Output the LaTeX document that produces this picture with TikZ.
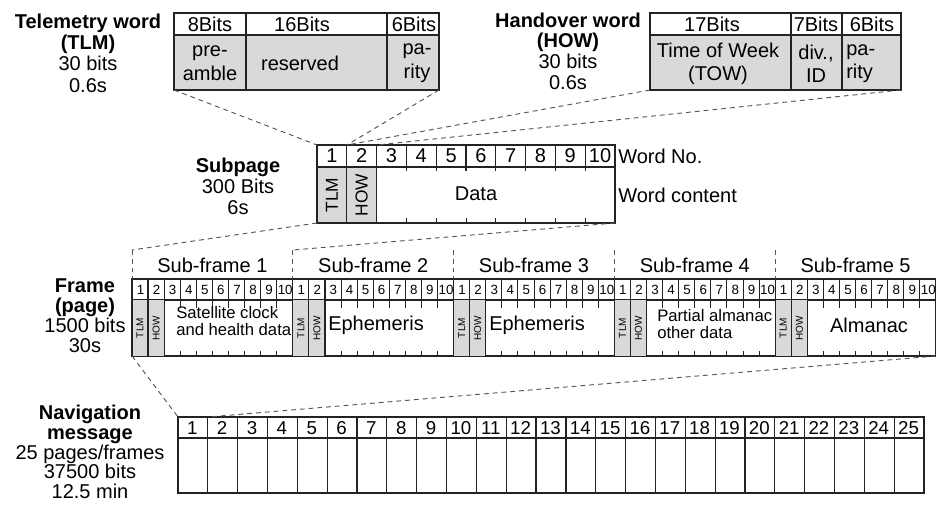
\documentclass[tikz,border=0pt]{standalone}
\usepackage{fontspec}
\setmainfont{Liberation Sans}
\usetikzlibrary{fit}
\definecolor{cellgray}{RGB}{217,217,217}
\definecolor{linec}{RGB}{35,35,35}
\definecolor{dashc}{RGB}{85,85,85}
\newcommand\myfs[2]{\fontsize{#1}{#2}\selectfont}
\tikzset{
  box/.style={draw=linec, line width=0.9pt, inner sep=0pt, outer sep=0pt, rectangle},
  gridl/.style={draw=linec, line width=0.9pt},
  thinl/.style={draw=linec, line width=0.7pt},
  conn/.style={draw=dashc, line width=0.7pt, dash pattern=on 3.6pt off 3pt},
  lbl/.style={font=\myfs{15}{16}, align=center, inner sep=0pt},
  small/.style={font=\myfs{10}{11}, inner sep=0pt},
  mid/.style={font=\myfs{12.5}{13}, align=left, inner sep=0pt},
  vtiny/.style={font=\myfs{7.5}{8}, inner sep=0pt, rotate=90},
  vmid/.style={font=\myfs{13}{14}, inner sep=0pt, rotate=90},
  navnum/.style={font=\myfs{14}{15}, inner sep=0pt}
}
\begin{document}
\begin{tikzpicture}[x=0.75pt,y=-0.75pt]
\useasboundingbox (0,0) rectangle (936,508);

% ---------------- Telemetry word box
\fill[cellgray] (174,35) rectangle (439,90);
\node[box, fit={(174,13) (439,90)}] (tlm) {};
\draw[gridl] (174,35) -- (439,35);
\draw[gridl] (246,13) -- (246,90);
\draw[gridl] (387,13) -- (387,90);
\node[lbl] (t8) at (210,24) {8Bits};
\node[lbl] (t16) at (302,24) {16Bits};
\node[lbl] (t6) at (414,24) {6Bits};
\node[lbl, font=\myfs{15}{18}] (tpre) at (210,63) {pre-\\amble};
\node[lbl] (tres) at (300,63) {reserved};
\node[lbl, font=\myfs{15}{18}] (tpar) at (417,63) {pa-\\rity};
\node[lbl, font=\myfs{15}{16}] (tlmlbl) at (88,53) {\textbf{Telemetry word}\\\textbf{(TLM)}\\30 bits\\0.6s};

% ---------------- Handover word box
\fill[cellgray] (650,35) rectangle (901,90);
\node[box, fit={(650,13) (901,90)}] (how) {};
\draw[gridl] (650,35) -- (901,35);
\draw[gridl] (791,13) -- (791,90);
\draw[gridl] (842,13) -- (842,90);
\node[lbl] (h17) at (712,24) {17Bits};
\node[lbl] (h7) at (816,24) {7Bits};
\node[lbl] (h6) at (872,24) {6Bits};
\node[lbl, font=\myfs{15}{17.5}] (htow) at (718,64) {Time of Week\\(TOW)};
\node[lbl, font=\myfs{15}{17.5}] (hdiv) at (816,64) {div.,\\ID};
\node[lbl, font=\myfs{15}{17.5}, align=left, anchor=west] (hpar) at (846,64) {pa-\\rity};
\node[lbl, font=\myfs{15}{15.5}] (howlbl) at (568,51) {\textbf{Handover word}\\\textbf{(HOW)}\\30 bits\\0.6s};

% ---------------- Subpage
\fill[cellgray] (317,167) rectangle (376.6,223);
\node[box, fit={(317,145) (615,223)}] (sp) {};
\draw[gridl] (317,167) -- (615,167);
\draw[gridl] (346.8,145) -- (346.8,223);
\draw[gridl] (376.6,145) -- (376.6,223);
\foreach \j in {3,...,9} {
  \draw[gridl] (317+29.8*\j,145) -- (317+29.8*\j,171);
  \draw[thinl] (317+29.8*\j,218) -- (317+29.8*\j,223);
}
\foreach \j in {1,...,10} {
  \node[lbl] (spn\j) at (317+29.8*\j-14.9,156) {\j};
}
\node[vmid] (sptlm) at (331.9,195) {TLM};
\node[vmid] (sphow) at (361.7,195) {HOW};
\node[lbl] (spdata) at (476,194) {Data};
\node[lbl, anchor=west] (spwn) at (618,156) {Word No.};
\node[lbl, anchor=west] (spwc) at (618,195) {Word content};
\node[lbl, font=\myfs{15}{15.8}] (splbl) at (238,186) {\textbf{Subpage}\\300 Bits\\6s};
\coordinate (spc1) at (346.8,145);
\coordinate (spc2) at (376.6,145);

% ---------------- Frame
\node[box, fit={(132,279) (936,356)}] (fr) {};
\draw[gridl] (132,300) -- (936,300);
\foreach \k in {0,...,4} {
  \pgfmathsetmacro\s{132+160.8*\k}
  \pgfmathtruncatemacro\kk{\k+1}
  \fill[cellgray] (\s,300) rectangle (\s+32.16,356);
  \draw[gridl] (\s,279) -- (\s,356);
  \draw[gridl] (\s+16.08,279) -- (\s+16.08,356);
  \draw[gridl] (\s+32.16,279) -- (\s+32.16,356);
  \foreach \j in {3,...,9} {
    \draw[thinl] (\s+16.08*\j,279) -- (\s+16.08*\j,308);
    \draw[thinl] (\s+16.08*\j,351) -- (\s+16.08*\j,356);
  }
  \foreach \j in {1,...,10} {
    \node[small] (fn\k-\j) at (\s+16.08*\j-7.6,290) {\j};
  }
  \node[vtiny] (ftlm\k) at (\s+8.04,328) {TLM};
  \node[vtiny] (fhow\k) at (\s+24.12,328) {HOW};
  \draw[conn] (\s,250) -- (\s,279);
  \node[lbl] (sft\k) at (\s+80.4,265) {Sub-frame \kk};
}
\draw[conn] (936,250) -- (936,279);
\node[mid, anchor=west] (f1txt) at (176,321) {Satellite clock\\and health data};
\node[lbl, anchor=west] (f2txt) at (328,325) {Ephemeris};
\node[lbl, anchor=west] (f3txt) at (489,325) {Ephemeris};
\node[mid, anchor=west] (f4txt) at (657,324) {Partial almanac\\other data};
\node[lbl] (f5txt) at (869,325) {Almanac};
\node[lbl, font=\myfs{15}{15}] (frlbl) at (85,316) {\textbf{Frame}\\\textbf{(page)}\\1500 bits\\30s};
\coordinate (frTL) at (132,250);
\coordinate (sf1TR) at (292.8,250);

% ---------------- Navigation message
\node[box, fit={(178,417) (924,493)}] (nav) {};
\draw[gridl] (178,438) -- (924,438);
\foreach \j in {1,...,24} {
  \draw[gridl] (178+29.84*\j,417) -- (178+29.84*\j,493);
}
\foreach \j in {1,...,25} {
  \node[navnum] (nn\j) at (178+29.84*\j-15.5,428) {\j};
}
\node[lbl, font=\myfs{15}{14.8}] (navlbl) at (90,452) {\textbf{Navigation}\\\textbf{message}\\25 pages/frames\\37500 bits\\12.5 min};
\coordinate (navc1) at (207.84,417);

% ---------------- dashed connectors
\draw[conn] (tlm.south west) -- (sp.north west);
\draw[conn] (tlm.south east) -- (spc1);
\draw[conn] (how.south west) -- (spc1);
\draw[conn] (how.south east) -- (spc2);
\draw[conn] (sp.south west) -- (frTL);
\draw[conn] (sp.south east) -- (sf1TR);
\draw[conn] (fr.south west) -- (nav.north west);
\draw[conn] (fr.south east) -- (navc1);
\end{tikzpicture}
\end{document}
